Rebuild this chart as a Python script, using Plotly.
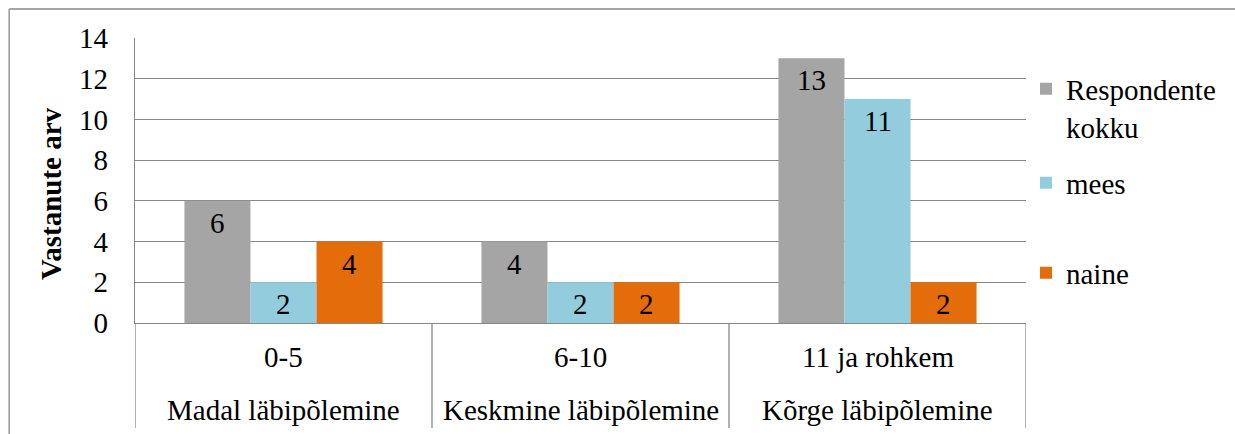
import plotly.graph_objects as go

# Burnout level groups (score range + level name)
score_ranges = ["0-5", "6-10", "11 ja rohkem"]
levels = ["Madal läbipõlemine", "Keskmine läbipõlemine", "Kõrge läbipõlemine"]

series_names = ["Respondente<br>kokku", "mees", "naine"]
total = [6, 4, 13]
men = [2, 2, 11]
women = [4, 2, 2]
series_values = [total, men, women]
series_colors = ["#A5A5A5", "#93CDDD", "#E46C0A"]

y_ticks = [0, 2, 4, 6, 8, 10, 12, 14]
y_title = "Vastanute arv"

FONT = "Times New Roman"
FS = 29
LINE = "#878787"
BARGAP = 0.333

W, H = 1235, 434
ML, MR, MT, MB = 135, 208, 38, 111
plot_w = W - ML - MR
plot_h = H - MT - MB


def paper_x(px):
    """Convert a pixel column of the page into paper x coordinates."""
    return (px - ML) / plot_w


def paper_y(px):
    """Convert a pixel row of the page into paper y coordinates."""
    return (H - MB - px) / plot_h


def tfont():
    return dict(family=FONT, size=FS, color="black")


fig = go.Figure()
legend_ids = ["legend", "legend2", "legend3"]
for name, vals, col, lg in zip(series_names, series_values, series_colors, legend_ids):
    fig.add_trace(go.Bar(
        x=score_ranges, y=vals, name=name, marker=dict(color=col, line=dict(width=0)),
        legend=lg, showlegend=True, hoverinfo="skip",
    ))

# value labels inside the top of each bar
n = len(series_values)
bw = (1 - BARGAP) / n
annotations = []
for i, vals in enumerate(series_values):
    for j, v in enumerate(vals):
        annotations.append(dict(
            x=j + (i - (n - 1) / 2) * bw, y=v, xref="x", yref="y",
            text=str(v), showarrow=False, yanchor="middle", yshift=-22,
            font=tfont(),
        ))

# two-level category labels under the axis
for j, (r, lv) in enumerate(zip(score_ranges, levels)):
    annotations.append(dict(x=j, y=paper_y(357), xref="x", yref="paper", text=r,
                            showarrow=False, yanchor="middle", font=tfont()))
    annotations.append(dict(x=j, y=paper_y(410), xref="x", yref="paper", text=lv,
                            showarrow=False, yanchor="middle", font=tfont()))

# vertical y-axis title
annotations.append(dict(x=paper_x(51), y=paper_y(194), xref="paper", yref="paper",
                        text=f"<b>{y_title}</b>", textangle=-90, showarrow=False,
                        xanchor="center", yanchor="middle", font=tfont()))

shapes = []
# category dividers below the axis
for k in range(len(score_ranges) + 1):
    shapes.append(dict(type="line", xref="x", yref="paper", x0=k - 0.5, x1=k - 0.5,
                       y0=0, y1=paper_y(428), line=dict(color=LINE, width=1.3)))
# chart frame (top and left edges)
fx = paper_x(9)
fy = paper_y(9)
shapes.append(dict(type="line", xref="paper", yref="paper", x0=fx, x1=paper_x(W + 5),
                   y0=fy, y1=fy, line=dict(color=LINE, width=1.3)))
shapes.append(dict(type="line", xref="paper", yref="paper", x0=fx, x1=fx,
                   y0=fy, y1=paper_y(H + 5), line=dict(color=LINE, width=1.3)))

# legends are placed against the page so they never push the plot margins
legend_style = dict(font=tfont(), bgcolor="rgba(0,0,0,0)", xref="container", yref="container",
                    xanchor="left", x=1026 / W, yanchor="middle",
                    itemclick=False, itemdoubleclick=False)

fig.update_layout(
    template="none",
    width=W, height=H,
    margin=dict(l=ML, r=MR, t=MT, b=MB),
    paper_bgcolor="white", plot_bgcolor="white",
    showlegend=True,
    barmode="group", bargap=BARGAP, bargroupgap=0,
    font=tfont(),
    xaxis=dict(type="category", range=[-0.5, 2.5], showticklabels=False,
               showline=True, linecolor=LINE, linewidth=1.3, showgrid=False, ticks=""),
    yaxis=dict(range=[0, 14], tickvals=y_ticks, showgrid=True, gridcolor=LINE, gridwidth=1.3,
               showline=True, linecolor=LINE, linewidth=1.3, zeroline=False, ticks="",
               ticklabelstandoff=20, tickfont=tfont()),
    legend=dict(**legend_style, y=1 - 108 / H, valign="top"),
    legend2=dict(**legend_style, y=1 - 183 / H),
    legend3=dict(**legend_style, y=1 - 273 / H),
    annotations=annotations,
    shapes=shapes,
)

fig.write_html("out.html")
